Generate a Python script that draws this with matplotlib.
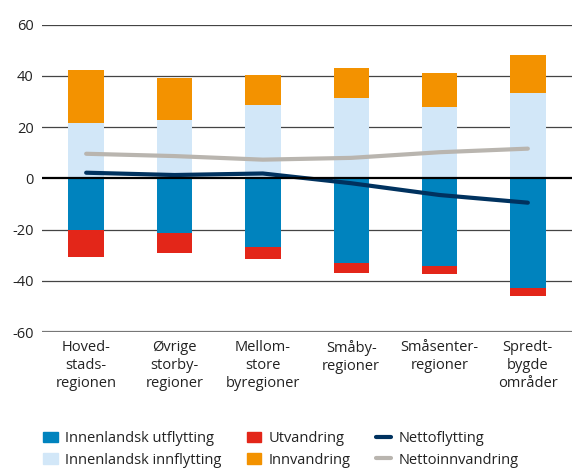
import matplotlib
matplotlib.use("Agg")
import matplotlib.pyplot as plt
import matplotlib.transforms as mtrans
from matplotlib.patches import Patch
from matplotlib.lines import Line2D
import numpy as np

plt.rcParams['font.family'] = ['Open Sans', 'DejaVu Sans']

categories = ["Hoved-\nstads-\nregionen", "Øvrige\nstorby-\nregioner", "Mellom-\nstore\nbyregioner",
              "Småby-\nregioner", "Småsenter-\nregioner", "Spredt-\nbygde\nområder"]
innflytting = [21.5, 22.7, 28.6, 31.2, 27.8, 33.2]
innvandring = [20.9, 16.4, 11.6, 11.7, 13.5, 14.8]
utflytting = [-20.0, -21.5, -27.0, -33.1, -34.2, -42.7]
utvandring = [-10.9, -7.5, -4.3, -3.7, -3.3, -3.4]
nettoflytting = [2.2, 1.3, 1.9, -1.9, -6.5, -9.5]
nettoinnvandring = [9.6, 8.7, 7.3, 8.0, 10.2, 11.6]
yticks = [-60, -40, -20, 0, 20, 40, 60]

c_ut = "#0083BE"
c_inn = "#D2E7F8"
c_utv = "#E32619"
c_innv = "#F39200"
c_nf = "#00325F"
c_ni = "#B9B5AF"

fs = 10.5
fig = plt.figure(figsize=(5.73, 4.68), dpi=100)
ax = fig.add_axes([42/573, 1-332/468, 530/573, (332-24.7)/468])

x = np.arange(len(categories))
w = 0.4
ax.bar(x, innflytting, w, color=c_inn, zorder=2)
ax.bar(x, innvandring, w, bottom=innflytting, color=c_innv, zorder=2)
ax.bar(x, utflytting, w, color=c_ut, zorder=2)
ax.bar(x, utvandring, w, bottom=utflytting, color=c_utv, zorder=2)
ax.plot(x, nettoinnvandring, color=c_ni, lw=3, zorder=3, solid_capstyle='round')
ax.plot(x, nettoflytting, color=c_nf, lw=3, zorder=3, solid_capstyle='round')

ax.set_xlim(-0.5, 5.5)
ax.set_ylim(-60, 60)
ax.set_yticks(yticks)
ax.set_yticklabels([str(t) for t in yticks], fontsize=fs, color="#222222")
offset = mtrans.ScaledTranslation(0, 4/72, fig.dpi_scale_trans)
for lab in ax.get_yticklabels():
    lab.set_transform(lab.get_transform() + offset)
ax.set_xticks(x)
ax.set_xticklabels(categories, fontsize=fs, color="#222222", linespacing=1.25)
ax.tick_params(axis='x', length=0, pad=6)
ax.tick_params(axis='y', length=0, pad=6)
for s in ax.spines.values():
    s.set_visible(False)
for t in yticks:
    if t == 0:
        ax.axhline(t, color="black", lw=1.6, zorder=4)
    elif t == -60:
        ax.axhline(t, color="#777777", lw=1.6, zorder=1)
    else:
        ax.axhline(t, color="#444444", lw=0.9, zorder=1)

handles = [
    Patch(color=c_ut, label="Innenlandsk utflytting"),
    Patch(color=c_inn, label="Innenlandsk innflytting"),
    Patch(color=c_utv, label="Utvandring"),
    Patch(color=c_innv, label="Innvandring"),
    Line2D([], [], color=c_nf, lw=3, label="Nettoflytting", solid_capstyle='round'),
    Line2D([], [], color=c_ni, lw=3, label="Nettoinnvandring", solid_capstyle='round'),
]
fig.legend(handles=handles, ncol=3, loc="upper left", bbox_to_anchor=(30/573, 1-418/468),
           frameon=False, fontsize=fs, handlelength=1.0, handleheight=0.75,
           handletextpad=0.5, columnspacing=1.75, labelspacing=0.45, labelcolor="#222222")

fig.savefig("out.png", dpi=100)
